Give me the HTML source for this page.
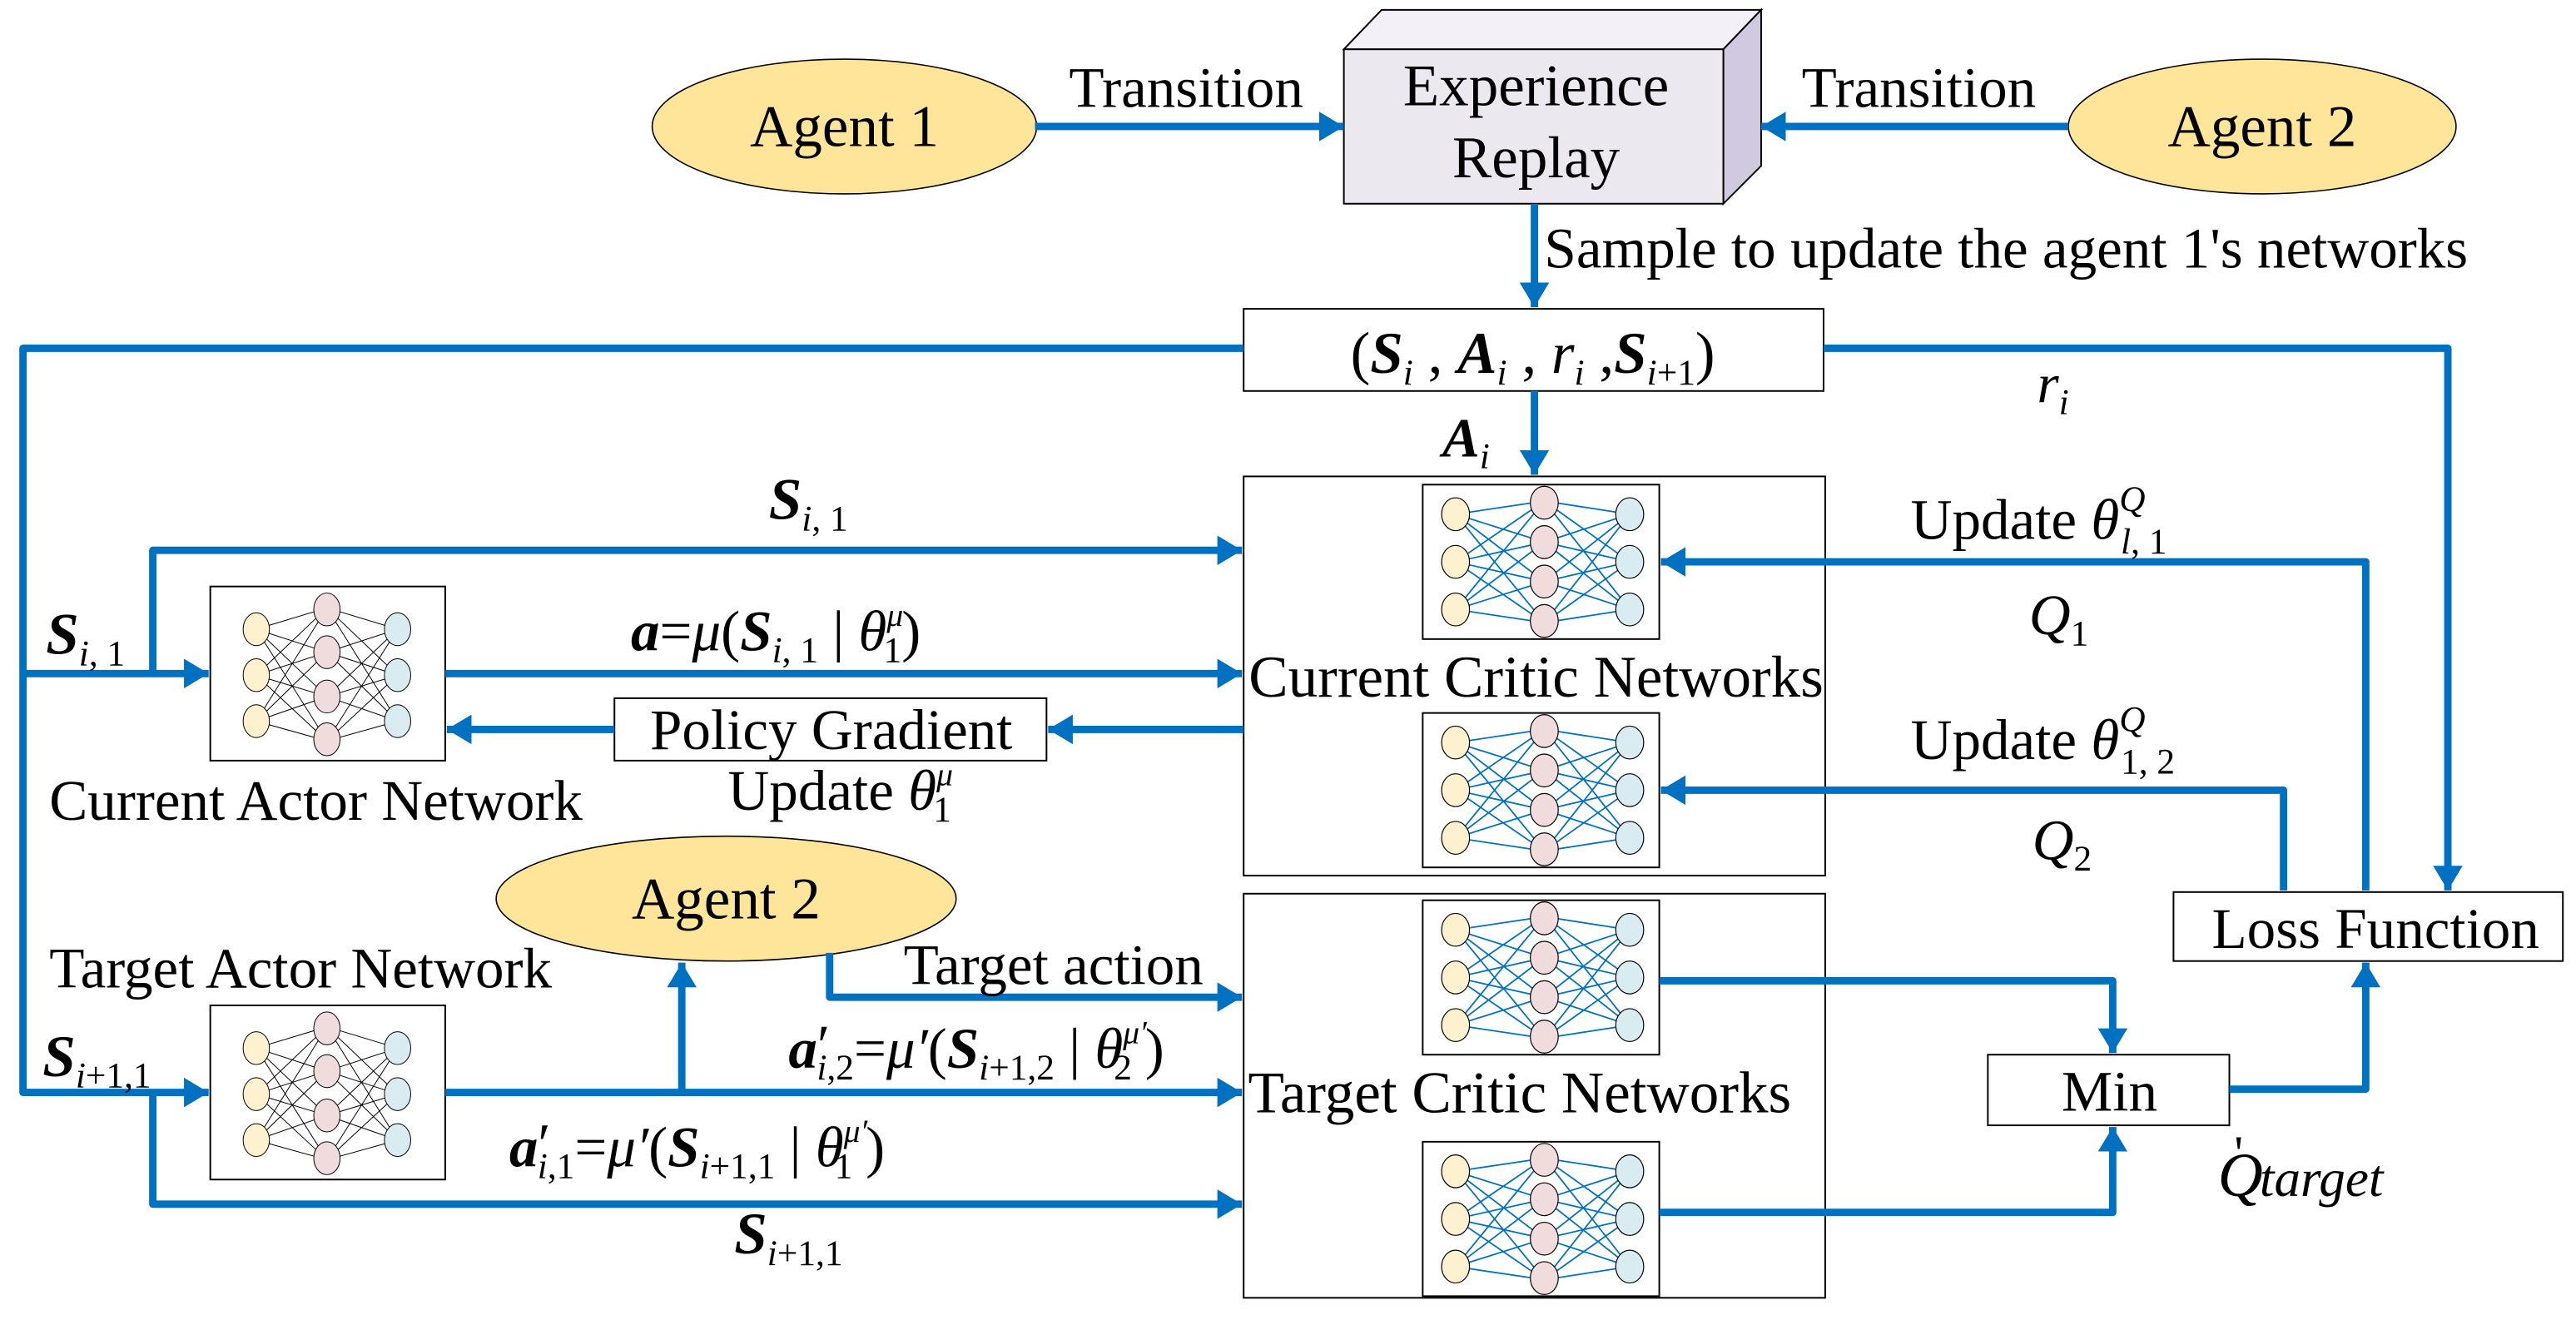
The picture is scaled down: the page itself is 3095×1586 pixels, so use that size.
<!DOCTYPE html>
<html><head><meta charset="utf-8"><style>
html,body{margin:0;padding:0;background:#fff;}
svg{display:block;}
text{font-family:"Liberation Serif","Times New Roman",serif;fill:#000;}
</style></head><body>
<svg width="3095" height="1586" viewBox="0 0 1568 803.5" xmlns="http://www.w3.org/2000/svg" font-family="Liberation Serif, serif">
<defs>
<marker id="ah" markerUnits="userSpaceOnUse" markerWidth="16" markerHeight="18" refX="15" refY="9" orient="auto">
<path d="M0,0 L15,9 L0,18 Z" fill="#0070c0"/>
</marker>
<g id="netb">
<rect x="0" y="0" width="144" height="94" fill="#fff" stroke="#000" stroke-width="1"/>
<g stroke="#0070c0" stroke-width="0.9">
<path d="M20,18L74,10M20,18L74,35M20,18L74,59M20,18L74,84M20,47L74,10M20,47L74,35M20,47L74,59M20,47L74,84M20,76L74,10M20,76L74,35M20,76L74,59M20,76L74,84"/>
<path d="M126,18L74,10M126,18L74,35M126,18L74,59M126,18L74,84M126,47L74,10M126,47L74,35M126,47L74,59M126,47L74,84M126,76L74,10M126,76L74,35M126,76L74,59M126,76L74,84"/>
</g>
<g stroke="#000" stroke-width="0.6">
<ellipse cx="20" cy="18" rx="8.5" ry="10" fill="#fdf1cf"/><ellipse cx="20" cy="47" rx="8.5" ry="10" fill="#fdf1cf"/><ellipse cx="20" cy="76" rx="8.5" ry="10" fill="#fdf1cf"/>
<ellipse cx="74" cy="11" rx="8.5" ry="10" fill="#f0dcdc"/><ellipse cx="74" cy="35" rx="8.5" ry="10" fill="#f0dcdc"/><ellipse cx="74" cy="59" rx="8.5" ry="10" fill="#f0dcdc"/><ellipse cx="74" cy="83" rx="8.5" ry="10" fill="#f0dcdc"/>
<ellipse cx="126" cy="18" rx="8.5" ry="10" fill="#d9ecf2"/><ellipse cx="126" cy="47" rx="8.5" ry="10" fill="#d9ecf2"/><ellipse cx="126" cy="76" rx="8.5" ry="10" fill="#d9ecf2"/>
</g>
</g>
<g id="netk">
<rect x="0" y="0" width="143" height="106" fill="#fff" stroke="#000" stroke-width="1"/>
<g stroke="#000" stroke-width="0.5">
<path d="M28,26L71,13M28,26L71,40M28,26L71,67M28,26L71,94M28,54L71,13M28,54L71,40M28,54L71,67M28,54L71,94M28,82L71,13M28,82L71,40M28,82L71,67M28,82L71,94"/>
<path d="M114,26L71,13M114,26L71,40M114,26L71,67M114,26L71,94M114,54L71,13M114,54L71,40M114,54L71,67M114,54L71,94M114,82L71,13M114,82L71,40M114,82L71,67M114,82L71,94"/>
</g>
<g stroke="#000" stroke-width="0.5">
<ellipse cx="28" cy="26" rx="8" ry="10" fill="#fdf1cf"/><ellipse cx="28" cy="54" rx="8" ry="10" fill="#fdf1cf"/><ellipse cx="28" cy="82" rx="8" ry="10" fill="#fdf1cf"/>
<ellipse cx="71" cy="14" rx="8" ry="10" fill="#f0dcdc"/><ellipse cx="71" cy="40" rx="8" ry="10" fill="#f0dcdc"/><ellipse cx="71" cy="67" rx="8" ry="10" fill="#f0dcdc"/><ellipse cx="71" cy="93" rx="8" ry="10" fill="#f0dcdc"/>
<ellipse cx="114" cy="26" rx="8" ry="10" fill="#d9ecf2"/><ellipse cx="114" cy="54" rx="8" ry="10" fill="#d9ecf2"/><ellipse cx="114" cy="82" rx="8" ry="10" fill="#d9ecf2"/>
</g>
</g>
</defs>

<ellipse cx="514" cy="77" rx="117" ry="41" fill="#fee599" stroke="#000" stroke-width="0.8"/>
<text x="514" y="89" font-size="36" text-anchor="middle">Agent 1</text>
<ellipse cx="1377" cy="77" rx="118" ry="41" fill="#fee599" stroke="#000" stroke-width="0.8"/>
<text x="1377" y="89" font-size="36" text-anchor="middle">Agent 2</text>

<polygon points="818,30 841,6 1072,6 1049,30" fill="#f3f1f7" stroke="#000" stroke-width="1"/>
<polygon points="1049,30 1072,6 1072,101 1049,124" fill="#d1c9df" stroke="#000" stroke-width="1"/>
<rect x="818" y="30" width="231" height="94" fill="#ebe8f0" stroke="#000" stroke-width="1"/>
<text x="935" y="64" font-size="36" text-anchor="middle">Experience</text>
<text x="935" y="108" font-size="36" text-anchor="middle">Replay</text>

<g stroke="#0070c0" stroke-width="4.5" fill="none">
<path d="M630,77 L818,77" marker-end="url(#ah)"/>
<path d="M1259,77 L1072,77" marker-end="url(#ah)"/>
<path d="M934,124 L934,187" marker-end="url(#ah)"/>
</g>
<text x="722" y="65" font-size="35" text-anchor="middle">Transition</text>
<text x="1168" y="65" font-size="35" text-anchor="middle">Transition</text>
<text x="940" y="163" font-size="35">Sample to update the agent 1's networks</text>

<rect x="757" y="188" width="353" height="50" fill="#fff" stroke="#000" stroke-width="1"/>
<text x="933" y="227" font-size="36" text-anchor="middle">(<tspan font-weight="bold" font-style="italic">S</tspan><tspan font-style="italic" font-size="22" dy="7">i</tspan><tspan dy="-7">  , </tspan><tspan font-weight="bold" font-style="italic">A</tspan><tspan font-style="italic" font-size="22" dy="7">i</tspan><tspan dy="-7"> , </tspan><tspan font-style="italic">r</tspan><tspan font-style="italic" font-size="22" dy="7">i</tspan><tspan dy="-7"> ,</tspan><tspan font-weight="bold" font-style="italic">S</tspan><tspan font-style="italic" font-size="22" dy="7">i</tspan><tspan font-size="22">+1</tspan><tspan dy="-7">)</tspan></text>

<rect x="757" y="290" width="354" height="243" fill="#fff" stroke="#000" stroke-width="1"/>
<rect x="757" y="544" width="354" height="246" fill="#fff" stroke="#000" stroke-width="1"/>
<use href="#netb" x="866" y="295"/>
<use href="#netb" x="866" y="434"/>
<use href="#netb" x="866" y="548"/>
<use href="#netb" x="866" y="695"/>
<text x="935" y="424" font-size="36" text-anchor="middle">Current Critic Networks</text>
<text x="925" y="677" font-size="36" text-anchor="middle">Target Critic Networks</text>

<rect x="1323" y="543" width="237" height="42" fill="#fff" stroke="#000" stroke-width="1"/>
<text x="1446" y="577" font-size="35" text-anchor="middle">Loss Function</text>
<rect x="1210" y="642" width="147" height="43" fill="#fff" stroke="#000" stroke-width="1"/>
<text x="1284" y="676" font-size="35" text-anchor="middle">Min</text>

<use href="#netk" x="128" y="357"/>
<use href="#netk" x="128" y="612"/>
<text x="30" y="499" font-size="35">Current Actor Network</text>
<text x="30" y="601" font-size="35">Target Actor Network</text>

<rect x="374" y="425" width="263" height="38" fill="#fff" stroke="#000" stroke-width="1"/>
<text x="506" y="456" font-size="35" text-anchor="middle">Policy Gradient</text>

<ellipse cx="442" cy="547" rx="140" ry="38" fill="#fee599" stroke="#000" stroke-width="0.8"/>
<text x="442" y="559" font-size="36" text-anchor="middle">Agent 2</text>

<g stroke="#0070c0" stroke-width="4.5" fill="none" stroke-linejoin="round">
<path d="M757,212 L14,212 L14,665 L127,665" marker-end="url(#ah)"/>
<path d="M14,410 L127,410" marker-end="url(#ah)"/>
<path d="M1110,212 L1490,212 L1490,542" marker-end="url(#ah)"/>
<path d="M934,238 L934,289" marker-end="url(#ah)"/>
<path d="M1440,542 L1440,342 L1011,342" marker-end="url(#ah)"/>
<path d="M1390,542 L1390,481 L1011,481" marker-end="url(#ah)"/>
<path d="M1010,597 L1286,597 L1286,641" marker-end="url(#ah)"/>
<path d="M1010,738 L1286,738 L1286,686" marker-end="url(#ah)"/>
<path d="M1357,663 L1440,663 L1440,586" marker-end="url(#ah)"/>
<path d="M93,410 L93,335 L756,335" marker-end="url(#ah)"/>
<path d="M271,410 L756,410" marker-end="url(#ah)"/>
<path d="M757,444 L638,444" marker-end="url(#ah)"/>
<path d="M374,444 L272,444" marker-end="url(#ah)"/>
<path d="M271,665 L756,665" marker-end="url(#ah)"/>
<path d="M415,665 L415,586" marker-end="url(#ah)"/>
<path d="M505,580 L505,607 L756,607" marker-end="url(#ah)"/>
<path d="M93,665 L93,733 L756,733" marker-end="url(#ah)"/>
</g>

<text x="1240" y="245" font-size="34" font-style="italic">r<tspan font-size="22" dy="7">i</tspan></text>
<text x="878" y="278" font-size="34" font-weight="bold" font-style="italic">A<tspan font-size="22" font-weight="normal" dy="7">i</tspan></text>

<text x="1163" y="328" font-size="35">Update <tspan font-style="italic">θ</tspan><tspan font-size="22" font-style="italic" dy="-17">Q</tspan><tspan font-size="22" font-style="italic" dx="-15" dy="26">l</tspan><tspan font-size="22">, 1</tspan></text>
<text x="1235" y="386" font-size="35" font-style="italic">Q<tspan font-size="22" font-style="normal" dy="7">1</tspan></text>
<text x="1163" y="462" font-size="35">Update <tspan font-style="italic">θ</tspan><tspan font-size="22" font-style="italic" dy="-17">Q</tspan><tspan font-size="22" dx="-15" dy="26">1, 2</tspan></text>
<text x="1237" y="523" font-size="35" font-style="italic">Q<tspan font-size="22" font-style="normal" dy="7">2</tspan></text>
<text x="1350" y="728" font-size="38" font-style="italic">Q<tspan font-size="32" font-style="italic" dx="-2">target</tspan></text>
<text x="1360" y="712" font-size="30">'</text>

<text x="468" y="316" font-size="36" font-weight="bold" font-style="italic">S<tspan font-size="22" font-weight="normal" dy="7">i</tspan><tspan font-size="22" font-style="normal" font-weight="normal">, 1</tspan></text>
<text x="28" y="398" font-size="36" font-weight="bold" font-style="italic">S<tspan font-size="22" font-weight="normal" dy="7">i</tspan><tspan font-size="22" font-style="normal" font-weight="normal">, 1</tspan></text>
<text x="384" y="396" font-size="35" font-style="italic"><tspan font-weight="bold">a</tspan><tspan font-style="normal">=</tspan>μ<tspan font-style="normal">(</tspan><tspan font-weight="bold">S</tspan><tspan font-size="22" dy="7">i</tspan><tspan font-size="22" font-style="normal">, 1</tspan><tspan font-style="normal" dy="-7"> | </tspan>θ<tspan font-size="20" dy="-15">μ</tspan><tspan font-size="22" font-style="normal" dx="-12" dy="22">1</tspan><tspan font-style="normal" dy="-7">)</tspan></text>
<text x="443" y="493" font-size="35">Update <tspan font-style="italic">θ</tspan><tspan font-size="20" font-style="italic" dy="-15">μ</tspan><tspan font-size="22" dx="-12" dy="22">1</tspan></text>
<text x="550" y="599" font-size="35">Target action</text>
<text x="26" y="655" font-size="36" font-weight="bold" font-style="italic">S<tspan font-size="22" font-weight="normal" dy="7">i</tspan><tspan font-size="22" font-style="normal" font-weight="normal">+1,1</tspan></text>
<text x="480" y="650" font-size="35" font-style="italic"><tspan font-weight="bold">a</tspan><tspan font-style="normal" dy="-2">′</tspan><tspan font-size="22" dx="-8" dy="9">i</tspan><tspan font-size="22" font-style="normal">,2</tspan><tspan font-style="normal" dy="-7">=</tspan>μ′<tspan font-style="normal">(</tspan><tspan font-weight="bold">S</tspan><tspan font-size="22" dy="7">i</tspan><tspan font-size="22" font-style="normal">+1,2</tspan><tspan font-style="normal" dy="-7"> | </tspan>θ<tspan font-size="20" dy="-15">μ′</tspan><tspan font-size="22" font-style="normal" dx="-20" dy="22">2</tspan><tspan font-style="normal" dx="8" dy="-7">)</tspan></text>
<text x="310" y="710" font-size="35" font-style="italic"><tspan font-weight="bold">a</tspan><tspan font-style="normal" dy="-2">′</tspan><tspan font-size="22" dx="-8" dy="9">i</tspan><tspan font-size="22" font-style="normal">,1</tspan><tspan font-style="normal" dy="-7">=</tspan>μ′<tspan font-style="normal">(</tspan><tspan font-weight="bold">S</tspan><tspan font-size="22" dy="7">i</tspan><tspan font-size="22" font-style="normal">+1,1</tspan><tspan font-style="normal" dy="-7"> | </tspan>θ<tspan font-size="20" dy="-15">μ′</tspan><tspan font-size="22" font-style="normal" dx="-20" dy="22">1</tspan><tspan font-style="normal" dx="8" dy="-7">)</tspan></text>
<text x="447" y="763" font-size="36" font-weight="bold" font-style="italic">S<tspan font-size="22" font-weight="normal" dy="7">i</tspan><tspan font-size="22" font-style="normal" font-weight="normal">+1,1</tspan></text>
</svg>
</body></html>
